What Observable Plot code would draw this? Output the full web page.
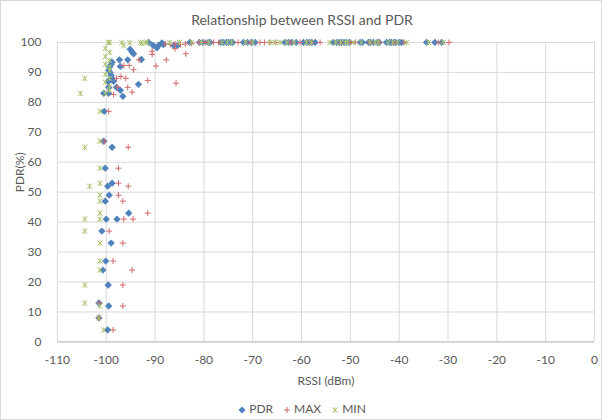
<!DOCTYPE html>
<html>
<head>
<meta charset="utf-8">
<script src="https://cdn.jsdelivr.net/npm/d3@7"></script>
<script src="https://cdn.jsdelivr.net/npm/@observablehq/plot@0.6"></script>
<style>
  html, body { margin: 0; padding: 0; background: #fff; }
  #wrap { position: relative; width: 602px; height: 420px; box-sizing: border-box; border: 1px solid #d9d9d9; overflow: hidden; font-family: Lato, "Open Sans", sans-serif; color: #595959; }
  #chart { position: absolute; left: -1px; top: -1px; }
  #title { position: absolute; left: 0; width: 602px; top: 10px; text-align: center; font-size: 14px; color: #595959; }
  #legend { position: absolute; left: 0; width: 602px; top: 400px; text-align: center; font-size: 12px; color: #595959; }
  #legend span.item { margin: 0 5px; }
  #legend svg { vertical-align: middle; margin-right: 3px; }
</style>
</head>
<body>
<div id="wrap">
  <div id="chart"></div>
  <div id="title">Relationship between RSSI and PDR</div>
  <div id="legend"></div>
</div>
<script>
// ---- data ----
const xTicks = [-110, -100, -90, -80, -70, -60, -50, -40, -30, -20, -10, 0];
const yTicks = [0, 10, 20, 30, 40, 50, 60, 70, 80, 90, 100];

const pdrRssi = [
  -100.4, -100.5, -98.8, -100.2, -98.8, -99.7, -99.4, -100.2, -95.4, -100.0, -97.8, -100.9, -99.0, -100.1, -100.7, -99.6, -101.5, -99.5, -101.5, -99.7,
  -100.5, -99.5, -96.6, -97.1, -99.5, -97.9, -99.6, -98.5, -93.4, -99.0, -98.8, -99.2, -97.1, -98.8, -99.0, -99.3, -99.5, -99.2, -97.3, -95.6, -92.8,
  -95.1, -94.7, -94.4, -91.3, -90.4, -89.6, -89.3, -88.6, -88.3, -86.2, -85.4,
  -82.9, -80.9, -80.2, -79.1, -78.7, -76.5, -76.0, -75.4, -75.0, -74.5, -74.1, -71.9, -71.1, -70.2, -69.5, -63.4, -62.7, -62.0, -61.1, -59.6, -58.9,
  -58.4, -57.9, -57.2, -53.5, -52.8, -52.3, -51.8, -51.3, -50.8, -50.2, -48.0, -47.5, -46.3, -45.9, -45.3, -44.5, -44.1, -42.6, -42.0, -41.6, -41.1,
  -40.7, -40.0, -39.5, -34.4, -32.7, -31.3, -30.9
];
const pdrValue = [
  77, 67, 65, 58, 53, 52, 49, 47, 43, 41, 41, 37, 33, 27, 24, 19, 13, 12, 8, 4,
  83, 83, 82, 84, 85, 85, 87, 87, 86, 89, 88, 87.5, 92, 93.4, 92.6, 91.8, 90.7, 90, 94.2, 94.2, 94.3,
  97.7, 96.8, 96.2, 100, 99, 98.2, 99, 99.8, 99.3, 99, 99,
  100, 100, 100, 100, 100, 100, 100, 100, 100, 100, 100, 100, 100, 100, 100, 100, 100, 100, 100, 100, 100,
  100, 100, 100, 100, 100, 100, 100, 100, 100, 100, 100, 100, 100, 100, 100, 100, 100, 100, 100, 100,
  100, 100, 100, 100, 100, 100, 100
];

const maxRssi = [
  -99.5, -100.4, -95.5, -97.5, -97.5, -95.5, -97.5, -96.6, -91.5, -96.4, -94.5, -99.4, -96.6, -98.6, -94.7, -96.6, -101.4, -96.6, -101.5, -98.6,
  -98.5, -94.7, -97.7, -95.6, -97.9, -97.0, -96.0, -91.5, -85.7, -94.4, -96.4, -95.3, -89.8, -93.3, -87.7, -90.6, -90.6, -85.9, -83.7,
  -87.9, -86.9, -85.9, -84.8, -83.8, -82.5, -81.0, -79.7,
  -78.0, -77.0, -73.0, -70.5, -68.5, -67.6, -66.5, -65.3, -62.3, -60.3, -58.0, -56.2, -52.0, -50.0, -49.0, -46.0, -44.0, -41.0, -39.0, -32.0, -29.8
];
const maxValue = [
  77, 67, 65, 58, 53, 52, 49, 47, 43, 41, 41, 37, 33, 27, 24, 19, 13, 12, 8, 4,
  82.6, 83.4, 85, 85, 88, 88.6, 88, 87.3, 86.4, 90.9, 92.3, 92.3, 92.1, 94.2, 94.2, 97.1, 96, 97.9, 96.2,
  99.5, 99.3, 99.5, 99.3, 99.5, 99.6, 100, 100,
  100, 100, 100, 100, 100, 100, 100, 100, 100, 100, 100, 100, 100, 100, 100, 100, 100, 100, 100, 100, 100
];

const minRssi = [
  -101.3, -101.3, -104.4, -101.3, -101.3, -103.4, -101.3, -101.3, -101.3, -101.3, -104.4, -104.4, -101.3, -101.3, -101.3, -104.4, -104.4, -101.3, -101.5, -100.5,
  -105.3, -104.4, -100.2, -100.2, -100.2, -100.2, -100.2, -100.2, -99.3, -99.3, -99.3, -99.3, -99.3, -99.3, -99.3, -99.3, -99.6,
  -96.8, -96.4, -95.2, -93.0, -92.7, -92.0, -91.6, -87.0, -85.0,
  -82.5, -80.5, -79.0, -76.3, -75.2, -74.3, -71.5, -70.0, -66.4, -65.4, -64.4, -63.0, -61.5, -59.0, -58.0, -54.2, -53.0, -52.0, -51.0, -50.5,
  -49.4, -47.8, -46.0, -45.0, -44.3, -42.3, -41.3, -40.3, -38.5, -34.0, -31.0
];
const minValue = [
  77, 67, 65, 58, 53, 52, 49, 47, 43, 41, 41, 37, 33, 27, 24, 19, 13, 12, 8, 4,
  83, 88, 83, 86.7, 89.3, 92.7, 95.3, 98, 84, 85.3, 88, 90.7, 91.8, 94, 96.7, 100, 100,
  99.9, 99, 99.9, 100, 99.6, 100, 100, 100, 100,
  100, 100, 100, 100, 100, 100, 100, 100, 100, 100, 100, 100, 100, 100, 100, 100, 100, 100, 100, 100,
  100, 100, 100, 100, 100, 100, 100, 100, 100, 100, 100
];

const colors = { PDR: "#4F81BD", MAX: "#D0686A", MIN: "#A9C46E" };

const zip = (xs, ys) => xs.map((x, i) => ({ rssi: x, pdr: ys[i] }));
const pdrData = zip(pdrRssi, pdrValue);
const maxData = zip(maxRssi, maxValue);
const minData = zip(minRssi, minValue);

// Excel-like markers drawn at a fixed half-size s = r
const plusSym = {
  draw(context, size) {
    const s = Math.sqrt(size / Math.PI);
    context.moveTo(0, -s); context.lineTo(0, s);
    context.moveTo(-s, 0); context.lineTo(s, 0);
  }
};
const star = {
  draw(context, size) {
    const s = Math.sqrt(size / Math.PI);
    context.moveTo(-s, -s); context.lineTo(s, s);
    context.moveTo(-s, s); context.lineTo(s, -s);
    context.moveTo(0, -s); context.lineTo(0, s);
  }
};

const chart = Plot.plot({
  width: 602,
  height: 420,
  marginTop: 42,
  marginBottom: 78,
  marginLeft: 57,
  marginRight: 7,
  style: { fontFamily: "Lato, 'Open Sans', sans-serif", fontSize: "12px", color: "#595959", background: "transparent" },
  x: { domain: [-110, 0], ticks: xTicks },
  y: { domain: [0, 100], ticks: yTicks },
  marks: [
    Plot.gridX(xTicks, { stroke: "#d9d9d9", strokeOpacity: 1 }),
    Plot.gridY(yTicks, { stroke: "#d9d9d9", strokeOpacity: 1 }),
    Plot.ruleY([0], { stroke: "#bfbfbf" }),
    Plot.axisX(xTicks, { tickSize: 0, tickPadding: 14, label: null, tickFormat: d => d, fill: "#595959" }),
    Plot.axisY(yTicks, { tickSize: 0, tickPadding: 16, label: null, fill: "#595959" }),
    Plot.dot(pdrData, { x: "rssi", y: "pdr", symbol: "diamond2", r: 3.3, fill: colors.PDR, stroke: "none" }),
    Plot.dot(maxData, { x: "rssi", y: "pdr", symbol: plusSym, r: 3, stroke: colors.MAX, strokeWidth: 1, fill: "none" }),
    Plot.dot(minData, { x: "rssi", y: "pdr", symbol: star, r: 2.6, stroke: colors.MIN, strokeWidth: 1, fill: "none" }),
    Plot.text(["RSSI (dBm)"], { frameAnchor: "bottom", dy: 43, fill: "#595959", fontSize: 12 }),
    Plot.text(["PDR(%)"], { frameAnchor: "left", dx: -37, rotate: -90, fill: "#595959", fontSize: 12 })
  ]
});
document.getElementById("chart").appendChild(chart);

// legend
const legendItems = [
  { name: "PDR", svg: `<svg width="8" height="8"><path d="M4,0.5L7.5,4L4,7.5L0.5,4Z" fill="${colors.PDR}"/></svg>` },
  { name: "MAX", svg: `<svg width="8" height="8"><path d="M4,1V7M1,4H7" stroke="${colors.MAX}" stroke-width="1"/></svg>` },
  { name: "MIN", svg: `<svg width="8" height="8"><path d="M1.5,1.5L6.5,6.5M1.5,6.5L6.5,1.5M4,1.5V6.5" stroke="${colors.MIN}" stroke-width="1"/></svg>` }
];
document.getElementById("legend").innerHTML = legendItems
  .map(d => `<span class="item">${d.svg}${d.name}</span>`).join("");
</script>
</body>
</html>
